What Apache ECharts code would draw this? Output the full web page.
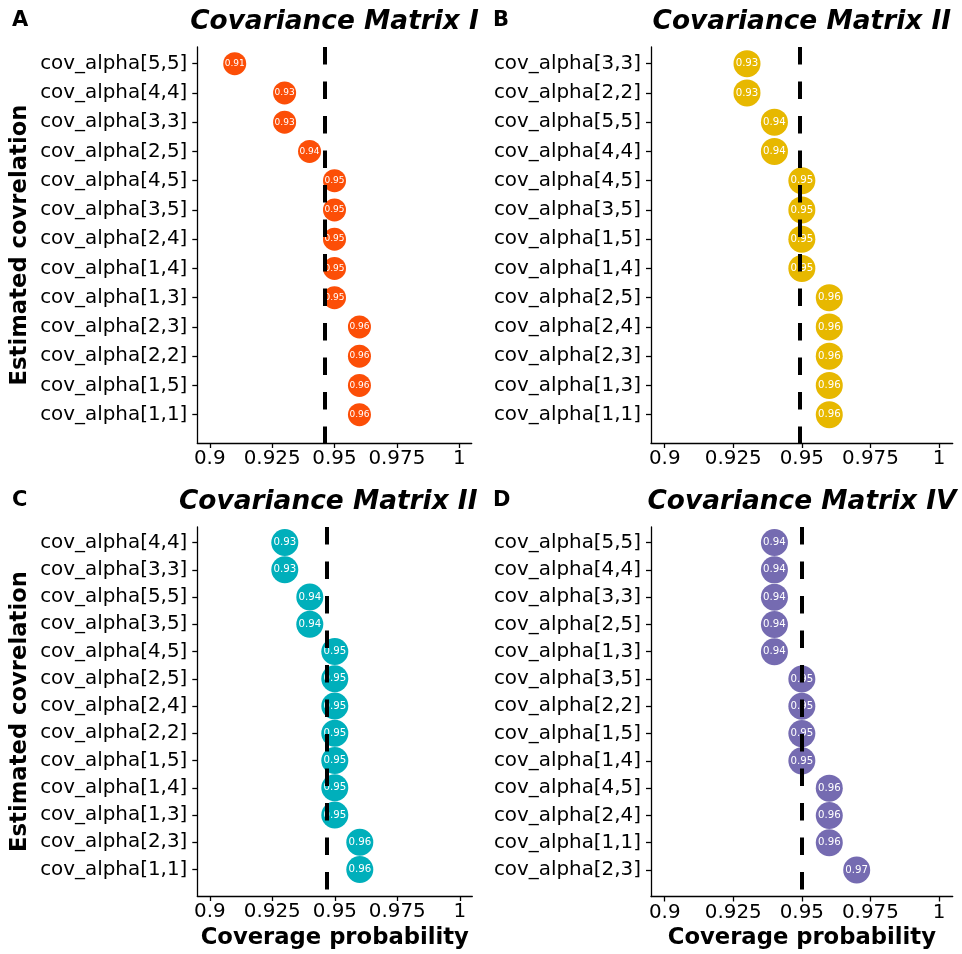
<!DOCTYPE html>
<html>
<head>
<meta charset="utf-8">
<script src="https://cdn.jsdelivr.net/npm/echarts@6/dist/echarts.min.js"></script>
<style>
html,body{margin:0;padding:0;background:#fff;}
#chart{width:962px;height:954px;}
</style>
</head>
<body>
<div id="chart"></div>
<script>
// ---- Data ----
const titleA = 'Covariance Matrix I';
const catsA = ['cov_alpha[5,5]','cov_alpha[4,4]','cov_alpha[3,3]','cov_alpha[2,5]','cov_alpha[4,5]','cov_alpha[3,5]','cov_alpha[2,4]','cov_alpha[1,4]','cov_alpha[1,3]','cov_alpha[2,3]','cov_alpha[2,2]','cov_alpha[1,5]','cov_alpha[1,1]'];
const valsA = [0.91,0.93,0.93,0.94,0.95,0.95,0.95,0.95,0.95,0.96,0.96,0.96,0.96];

const titleB = 'Covariance Matrix II';
const catsB = ['cov_alpha[3,3]','cov_alpha[2,2]','cov_alpha[5,5]','cov_alpha[4,4]','cov_alpha[4,5]','cov_alpha[3,5]','cov_alpha[1,5]','cov_alpha[1,4]','cov_alpha[2,5]','cov_alpha[2,4]','cov_alpha[2,3]','cov_alpha[1,3]','cov_alpha[1,1]'];
const valsB = [0.93,0.93,0.94,0.94,0.95,0.95,0.95,0.95,0.96,0.96,0.96,0.96,0.96];

const titleC = 'Covariance Matrix III';
const catsC = ['cov_alpha[4,4]','cov_alpha[3,3]','cov_alpha[5,5]','cov_alpha[3,5]','cov_alpha[4,5]','cov_alpha[2,5]','cov_alpha[2,4]','cov_alpha[2,2]','cov_alpha[1,5]','cov_alpha[1,4]','cov_alpha[1,3]','cov_alpha[2,3]','cov_alpha[1,1]'];
const valsC = [0.93,0.93,0.94,0.94,0.95,0.95,0.95,0.95,0.95,0.95,0.95,0.96,0.96];

const titleD = 'Covariance Matrix IV';
const catsD = ['cov_alpha[5,5]','cov_alpha[4,4]','cov_alpha[3,3]','cov_alpha[2,5]','cov_alpha[1,3]','cov_alpha[3,5]','cov_alpha[2,2]','cov_alpha[1,5]','cov_alpha[1,4]','cov_alpha[4,5]','cov_alpha[2,4]','cov_alpha[1,1]','cov_alpha[2,3]'];
const valsD = [0.94,0.94,0.94,0.94,0.94,0.95,0.95,0.95,0.95,0.96,0.96,0.96,0.97];

const xTickValues = [0.9,0.925,0.95,0.975,1];
const xTickLabels = ['0.9','0.925','0.95','0.975','1'];
const panelLetters = ['A','B','C','D'];
const xTitle = 'Coverage probability';
const yTitle = 'Estimated covrelation';

// ---- Layout / style ----
const colors = ['#FC4E07','#E7B800','#00AFBB','#756BB1'];
const layout = [
  {left:197.3, top:47,  width:274.4, height:396, sym:23, lab:9,    title:{x:334.5, y:22}, letter:{x:12, y:21}},
  {left:651,   top:47,  width:301.7, height:396, sym:27, lab:10.2, title:{x:801.8, y:22}, letter:{x:493,y:21}},
  {left:197.3, top:527, width:275,   height:369, sym:27, lab:10.2, title:{x:179,   y:502, left:true, clip:301}, letter:{x:12, y:501}},
  {left:651,   top:527, width:301.7, height:369.5, sym:27, lab:10.2, title:{x:802, y:502}, letter:{x:493,y:501}}
];
const panels = [
  {title:titleA, cats:catsA, vals:valsA},
  {title:titleB, cats:catsB, vals:valsB},
  {title:titleC, cats:catsC, vals:valsC},
  {title:titleD, cats:catsD, vals:valsD}
];
const FONT = '"DejaVu Sans", sans-serif';
const TICKFONT = 19.9;

const grid = [], xAxis = [], yAxis = [], series = [], graphic = [];
panels.forEach((p, k) => {
  const L = layout[k];
  grid.push({left:L.left, top:L.top, width:L.width, height:L.height, containLabel:false});
  xAxis.push({
    gridIndex:k, type:'value', min:0.895, max:1.005,
    axisLine:{show:true, onZero:false, lineStyle:{color:'#000', width:1.3}},
    axisTick:{show:true, length:5, customValues:xTickValues, lineStyle:{color:'#000', width:1.3}},
    axisLabel:{show:true, customValues:xTickValues, margin:6, color:'#000', fontSize:TICKFONT, fontFamily:FONT,
      formatter:(v)=>{ const i = xTickValues.findIndex(t=>Math.abs(t-v)<1e-9); return i>=0 ? xTickLabels[i] : ''; }},
    splitLine:{show:false}
  });
  const idx = p.cats.map((c,i)=>i);
  yAxis.push({
    gridIndex:k, type:'value', inverse:true, min:-0.57, max:12.97,
    axisLine:{show:true, onZero:false, lineStyle:{color:'#000', width:1.3}},
    axisTick:{show:true, length:5, customValues:idx, lineStyle:{color:'#000', width:1.3}},
    axisLabel:{show:true, customValues:idx, margin:10, color:'#000', fontSize:TICKFONT, fontFamily:FONT,
      formatter:(v)=>p.cats[Math.round(v)] || ''},
    splitLine:{show:false}
  });
  series.push({
    type:'scatter', xAxisIndex:k, yAxisIndex:k, symbol:'circle', symbolSize:L.sym, z:2,
    itemStyle:{color:colors[k], opacity:1},
    label:{show:true, position:'inside', color:'#fff', fontSize:L.lab, fontFamily:FONT,
      formatter:(d)=>d.value[0].toFixed(2)},
    emphasis:{disabled:true},
    data:p.vals.map((v,i)=>[v,i])
  });
  const mean = p.vals.reduce((a,b)=>a+b,0)/p.vals.length;
  series.push({
    type:'line', xAxisIndex:k, yAxisIndex:k, data:[], z:5, silent:true,
    markLine:{silent:true, symbol:['none','none'], z:5, animation:false, precision:6,
      label:{show:false},
      lineStyle:{color:'#000', width:4, type:[17.5,17], dashOffset:0},
      data:[{xAxis:mean}]}
  });
  graphic.push({type:'text', x:L.letter.x, y:L.letter.y,
    style:{text:panelLetters[k], font:'bold 21px '+FONT, fill:'#000', textAlign:'left', textVerticalAlign:'middle'}});
  const ts = {text:p.title, font:'italic bold 26.4px '+FONT, fill:'#000', textVerticalAlign:'middle'};
  if (L.title.left) { ts.textAlign='left'; ts.width=L.title.clip; ts.overflow='truncate'; ts.ellipsis=''; }
  else ts.textAlign='center';
  graphic.push({type:'text', x:L.title.x, y:L.title.y, style:ts});
  if (k===0 || k===2) {
    graphic.push({type:'text', x:20, y:L.top+L.height/2, rotation:Math.PI/2,
      style:{text:yTitle, font:'bold 22.7px '+FONT, fill:'#000', textAlign:'center', textVerticalAlign:'middle'}});
  }
  if (k===2 || k===3) {
    graphic.push({type:'text', x:L.left+L.width/2, y:938,
      style:{text:xTitle, font:'bold 22.7px '+FONT, fill:'#000', textAlign:'center', textVerticalAlign:'middle'}});
  }
});

const chart = echarts.init(document.getElementById('chart'), null, {renderer:'canvas'});
chart.setOption({
  backgroundColor:'#fff',
  animation:false,
  grid, xAxis, yAxis, series, graphic
});
</script>
</body>
</html>
